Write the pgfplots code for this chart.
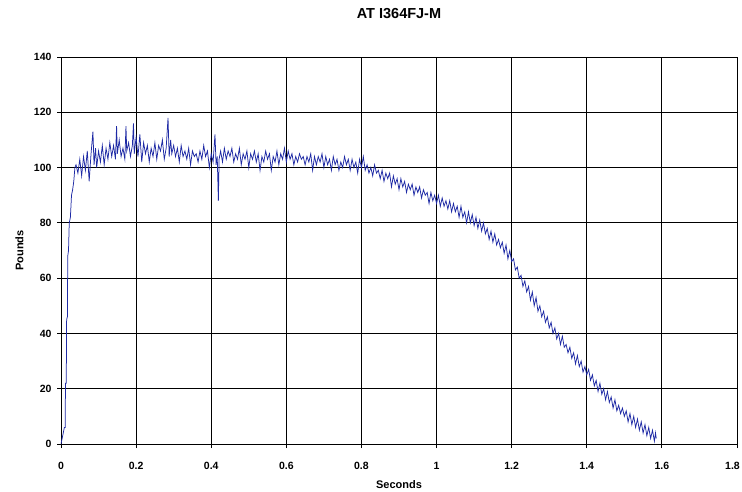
\documentclass[border=0pt]{standalone}
\usepackage{pgfplots}
\pgfplotsset{compat=1.18}
\usepackage{fontspec}
\setmainfont{Liberation Sans}
\definecolor{trace}{RGB}{30,42,165}
\begin{document}
\begin{tikzpicture}
\useasboundingbox (-61pt,-47pt) rectangle (681pt,444pt);
\begin{axis}[
  scale only axis,
  width=676pt, height=387pt,
  xmin=0, xmax=1.8, ymin=0, ymax=140,
  xtick={0,0.2,...,1.8}, ytick={0,20,...,140},
  xticklabels={0,0.2,0.4,0.6,0.8,1,1.2,1.4,1.6,\hspace*{-9pt}1.8},
  grid=major,
  major grid style={black, line width=0.8pt},
  axis line style={black, line width=0.8pt},
  tick align=outside, major tick length=4pt,
  tick style={black, line width=0.8pt},
  xtick pos=bottom, ytick pos=left,
  /pgf/number format/assume math mode=true,
  ticklabel style={font=\fontsize{10.5}{12}\selectfont\bfseries},
  xticklabel style={anchor=base, yshift=-21pt},
  yticklabel style={anchor=east, xshift=-2pt},
  title={AT I364FJ-M},
  title style={font=\fontsize{14.5}{17}\selectfont\bfseries, anchor=base,
    at={(axis description cs:0.5,1)}, yshift=32.7pt},
  xlabel={Seconds},
  xlabel style={font=\fontsize{11}{13}\selectfont\bfseries, anchor=base,
    at={(axis description cs:0.5,0)}, yshift=-44pt},
  ylabel={Pounds},
  ylabel style={font=\fontsize{11}{13}\selectfont\bfseries, anchor=base,
    at={(axis description cs:0,0.5)}, yshift=37.7pt},
]
% force trace, sampled by hand off the test record
\addplot[trace, line width=0.75pt, mark=none] coordinates {
(0,0) (0.003,2) (0.006,4) (0.009,6) (0.011,6) (0.012,22) (0.014,22) (0.015,45)
(0.017,46) (0.018,68) (0.020,70) (0.022,80) (0.025,82) (0.028,90) (0.031,92)
(0.034,95) (0.037,100) (0.040,101)
(0.045,98) (0.050,103) (0.055,97) (0.060,104) (0.065,99) (0.070,106) (0.075,95)
(0.080,105) (0.085,113) (0.088,101) (0.092,107) (0.095,100) (0.100,106)
(0.105,102) (0.110,108) (0.115,101) (0.120,107) (0.125,103) (0.130,109)
(0.135,104) (0.140,108) (0.145,103) (0.148,115) (0.150,105) (0.155,110)
(0.160,104) (0.165,107) (0.170,103) (0.173,115) (0.175,106) (0.180,109)
(0.185,104) (0.190,108) (0.193,116) (0.195,105) (0.200,111) (0.205,104)
(0.210,112) (0.215,102) (0.220,109) (0.225,105) (0.230,108) (0.235,102)
(0.240,107) (0.245,104) (0.250,109) (0.255,103) (0.260,108) (0.265,106)
(0.270,110) (0.275,103) (0.280,107) (0.285,118) (0.288,104) (0.292,110)
(0.295,105) (0.300,108) (0.305,104) (0.310,107) (0.315,102) (0.320,108)
(0.325,104) (0.330,106) (0.335,103) (0.340,107) (0.345,101) (0.350,106)
(0.355,104) (0.360,105) (0.365,102) (0.370,106) (0.375,103) (0.380,108)
(0.385,104) (0.390,106) (0.395,100) (0.400,105) (0.405,102) (0.410,112)
(0.413,101) (0.416,104) (0.419,88) (0.421,103) (0.425,106) (0.430,102)
(0.435,107) (0.440,103) (0.445,106) (0.450,104) (0.455,107) (0.460,102)
(0.465,105) (0.470,103) (0.475,107) (0.480,101) (0.485,105) (0.490,103)
(0.495,106) (0.500,100) (0.505,105) (0.510,103) (0.515,106) (0.520,102)
(0.525,105) (0.530,99) (0.535,104) (0.540,102) (0.545,106) (0.550,103)
(0.555,105) (0.560,99) (0.565,104) (0.570,102) (0.575,106) (0.580,101)
(0.585,105) (0.590,103) (0.595,107) (0.600,102) (0.605,106) (0.610,103)
(0.615,105) (0.620,101) (0.625,104) (0.630,102) (0.635,105) (0.640,103)
(0.645,104) (0.650,101) (0.655,104) (0.660,102) (0.665,105) (0.670,99)
(0.675,104) (0.680,101) (0.685,104) (0.690,102) (0.695,105) (0.700,100)
(0.705,104) (0.710,101) (0.715,103) (0.720,99) (0.725,104) (0.730,101)
(0.735,103) (0.740,99) (0.745,102) (0.750,100) (0.755,104) (0.760,101)
(0.765,103) (0.770,99) (0.775,103) (0.780,100) (0.785,102) (0.790,98)
(0.795,103) (0.800,100) (0.805,104) (0.810,99)
(0.815,101) (0.820,98) (0.825,100) (0.830,97) (0.835,101) (0.840,98)
(0.845,99) (0.850,96) (0.855,99) (0.860,95) (0.865,98) (0.870,96) (0.875,98)
(0.880,93) (0.885,97) (0.890,94) (0.895,96) (0.900,92) (0.905,96) (0.910,93)
(0.915,95) (0.920,91) (0.925,94) (0.930,92) (0.935,94) (0.940,90) (0.945,93)
(0.950,91) (0.955,93) (0.960,89) (0.965,92) (0.970,90) (0.975,91) (0.980,87)
(0.985,91) (0.990,88) (0.995,90) (1.000,87) (1.005,90) (1.010,86) (1.015,89)
(1.020,86) (1.025,88) (1.030,85) (1.035,88) (1.040,84) (1.045,87) (1.050,84)
(1.055,86) (1.060,82) (1.065,86) (1.070,82) (1.075,84) (1.080,80) (1.085,84)
(1.090,80) (1.095,83) (1.100,79) (1.105,82) (1.110,78) (1.115,81) (1.120,77)
(1.125,80) (1.130,76) (1.135,78) (1.140,74) (1.145,77) (1.150,73) (1.155,76)
(1.160,72) (1.165,74) (1.170,71) (1.175,73) (1.180,69) (1.185,72) (1.190,67)
(1.195,70) (1.200,66) (1.205,67) (1.210,63) (1.215,64) (1.220,60) (1.225,61)
(1.230,57) (1.235,59) (1.240,55) (1.245,57) (1.250,52) (1.255,55) (1.260,50)
(1.265,53) (1.270,48) (1.275,50) (1.280,46) (1.285,48) (1.290,44) (1.295,46)
(1.300,42) (1.305,44) (1.310,40) (1.315,42) (1.320,38) (1.325,40) (1.330,36)
(1.335,39) (1.340,35) (1.345,36) (1.350,33) (1.355,35) (1.360,31) (1.365,33)
(1.370,29) (1.375,32) (1.380,28) (1.385,30) (1.390,26) (1.395,28) (1.400,25)
(1.405,27) (1.410,23) (1.415,25) (1.420,21) (1.425,23) (1.430,19) (1.435,22)
(1.440,18) (1.445,20) (1.450,16) (1.455,19) (1.460,15) (1.465,17) (1.470,13)
(1.475,16) (1.480,12) (1.485,14) (1.490,11) (1.495,13) (1.500,10) (1.505,12)
(1.510,8) (1.515,11) (1.520,7) (1.525,10) (1.530,6) (1.535,9) (1.540,5)
(1.545,8) (1.550,4) (1.555,7) (1.560,3) (1.565,6) (1.570,2) (1.575,5)
(1.580,1) (1.583,4) (1.585,2)
};
\end{axis}
\end{tikzpicture}
\end{document}
